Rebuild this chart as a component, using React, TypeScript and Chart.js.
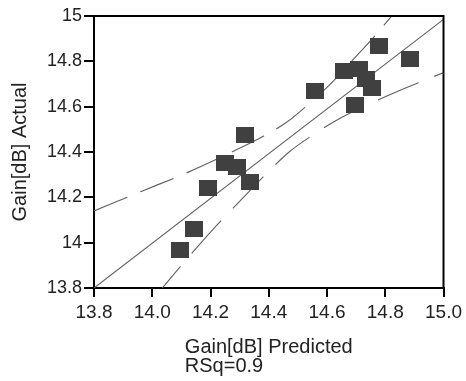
import React, { useEffect, useRef } from "react";
import { Chart, registerables } from "chart.js";

Chart.register(...registerables);

// Observations
const predicted = [14.095, 14.145, 14.19, 14.25, 14.29, 14.335, 14.32, 14.56, 14.66, 14.71, 14.735, 14.755, 14.695, 14.78, 14.885];
const actual = [13.967, 14.06, 14.243, 14.352, 14.333, 14.268, 14.476, 14.667, 14.757, 14.765, 14.72, 14.684, 14.606, 14.868, 14.81];

// Fit line
const fitX = [13.8, 15.0];
const fitY = [13.8, 14.985];

// Upper confidence curve
const upperX = [13.8, 13.96, 14.12, 14.28, 14.38, 14.46, 14.54, 14.6, 14.71, 14.76, 14.82];
const upperY = [14.14, 14.225, 14.309, 14.404, 14.468, 14.53, 14.615, 14.685, 14.836, 14.906, 14.997];

// Lower confidence curve
const lowerX = [14.0, 14.1, 14.2, 14.3, 14.4, 14.47, 14.55, 14.63, 14.75, 14.88, 15.0];
const lowerY = [13.747, 13.9, 14.047, 14.182, 14.315, 14.4, 14.474, 14.538, 14.615, 14.688, 14.75];

// Axes
const xTicks = [13.8, 14.0, 14.2, 14.4, 14.6, 14.8, 15.0];
const xTickLabels = ["13.8", "14.0", "14.2", "14.4", "14.6", "14.8", "15.0"];
const yTicks = [13.8, 14.0, 14.2, 14.4, 14.6, 14.8, 15.0];
const yTickLabels = ["13.8", "14", "14.2", "14.4", "14.6", "14.8", "15"];
const yTitle = "Gain[dB] Actual";
const xTitle = ["Gain[dB] Predicted", "RSq=0.9"];

const toPts = (xs: number[], ys: number[]) => xs.map((x, i) => ({ x, y: ys[i] }));

export default function App() {
  const ref = useRef<HTMLCanvasElement>(null);

  useEffect(() => {
    const sq = document.createElement("canvas");
    sq.width = 18;
    sq.height = 16;
    const sc = sq.getContext("2d")!;
    sc.fillStyle = "#404040";
    sc.fillRect(0, 0, 18, 16);

    const framePlugin = {
      id: "frame",
      afterDraw(chart: any) {
        const { ctx, chartArea: a } = chart;
        ctx.save();
        ctx.strokeStyle = "#000";
        ctx.lineWidth = 2;
        ctx.beginPath();
        ctx.moveTo(a.left, a.top);
        ctx.lineTo(a.right, a.top);
        ctx.lineTo(a.right, a.bottom);
        ctx.stroke();
        ctx.font = "20px 'Liberation Sans', Arial, sans-serif";
        ctx.fillStyle = "#222";
        ctx.textAlign = "left";
        ctx.textBaseline = "alphabetic";
        const w = ctx.measureText(xTitle[0]).width;
        const left = (a.left + a.right) / 2 - w / 2;
        ctx.fillText(xTitle[0], left, a.bottom + 65);
        ctx.fillText(xTitle[1], left, a.bottom + 83.5);
        ctx.restore();
      },
    };

    const lineCol = "#606060";

    const chart = new Chart(ref.current!, {
      type: "scatter",
      data: {
        datasets: [
          {
            data: toPts(predicted, actual),
            pointStyle: sq as any,
            pointRadius: 9,
            order: 0,
          },
          {
            type: "line",
            data: toPts(fitX, fitY),
            borderColor: lineCol,
            borderWidth: 1.1,
            pointRadius: 0,
            fill: false,
            order: 1,
          },
          {
            type: "line",
            data: toPts(upperX, upperY),
            borderColor: lineCol,
            borderWidth: 1.1,
            borderDash: [36, 14],
            pointRadius: 0,
            cubicInterpolationMode: "monotone",
            fill: false,
            order: 1,
          },
          {
            type: "line",
            data: toPts(lowerX, lowerY),
            borderColor: lineCol,
            borderWidth: 1.1,
            borderDash: [44, 17],
            pointRadius: 0,
            cubicInterpolationMode: "monotone",
            fill: false,
            order: 1,
          },
        ] as any,
      },
      options: {
        responsive: false,
        animation: false,
        events: [],
        layout: { padding: { left: 0, top: 16, right: 18, bottom: 0 } },
        plugins: { legend: { display: false }, tooltip: { enabled: false } },
        scales: {
          x: {
            type: "linear",
            min: 13.8,
            max: 15.0,
            afterBuildTicks: (s: any) => {
              s.ticks = xTicks.map((v) => ({ value: v }));
            },
            afterFit: (s: any) => {
              s.height = 93;
            },
            ticks: {
              callback: (_v: any, i: number) => xTickLabels[i],
              font: { family: "'Liberation Sans Narrow', 'Liberation Sans', sans-serif", size: 19 },
              color: "#222",
              padding: 4,
              maxRotation: 0,
              autoSkip: false,
            },
            grid: { drawOnChartArea: false, drawTicks: true, tickLength: 9, color: "#000", lineWidth: 2 },
            border: { display: true, color: "#000", width: 2 },
          },
          y: {
            type: "linear",
            min: 13.8,
            max: 15.0,
            afterBuildTicks: (s: any) => {
              s.ticks = yTicks.map((v) => ({ value: v }));
            },
            afterFit: (s: any) => {
              s.width = 94;
            },
            ticks: {
              callback: (_v: any, i: number) => yTickLabels[i],
              font: { family: "'Liberation Sans', Arial, sans-serif", size: 18 },
              color: "#222",
              padding: 2,
              autoSkip: false,
            },
            grid: { drawOnChartArea: false, drawTicks: true, tickLength: 10, color: "#000", lineWidth: 2 },
            border: { display: true, color: "#000", width: 2 },
            title: {
              display: true,
              text: yTitle,
              color: "#222",
              font: { family: "'Liberation Sans', Arial, sans-serif", size: 20 },
              padding: { top: 8, bottom: 0 },
            },
          },
        },
      } as any,
      plugins: [framePlugin],
    });
    return () => chart.destroy();
  }, []);

  return (
    <div style={{ position: "absolute", left: 0, top: 0, width: 466, height: 381, background: "#fff" }}>
      <canvas ref={ref} width={466} height={381} style={{ display: "block" }} />
    </div>
  );
}
